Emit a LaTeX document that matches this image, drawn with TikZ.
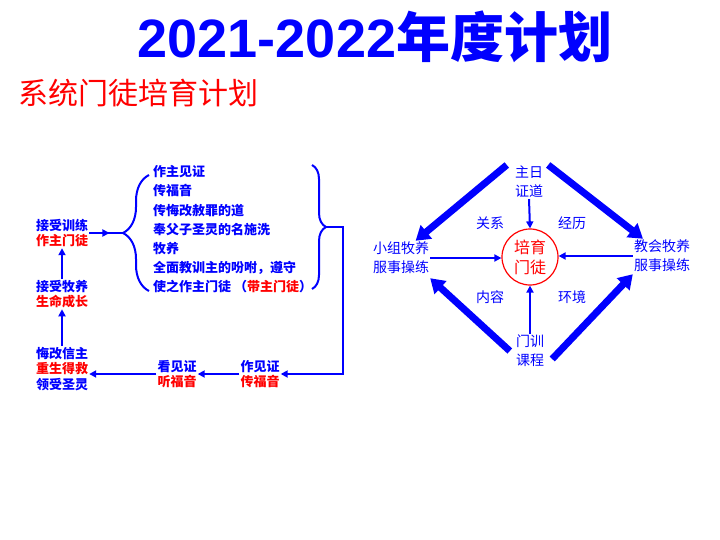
\documentclass[tikz,border=0pt]{standalone}
\usepackage{fontspec}
\setmainfont{Liberation Sans}
\newfontfamily\cjk{Noto Sans CJK SC}
\usetikzlibrary{arrows.meta,decorations.pathreplacing,decorations.markings,calc}

\tikzset{
    lefttext/.style={font=\cjk\bfseries\fontsize{13}{15.5}\selectfont, text=blue, align=center, inner sep=1pt},
    listline/.style={lefttext, anchor=west, text height=10pt, text depth=2pt},
    righttext/.style={font=\cjk\fontsize{14}{19}\selectfont, text=blue, align=center, inner sep=1pt},
    thinarrow/.style={blue, line width=2pt, -{Triangle[length=7pt,width=7pt]}},
    thickarrow/.style={blue, line width=7pt, -{Triangle[length=14pt,width=17pt]}},
    bracket/.style={blue, line width=2pt, decorate},
}

\begin{document}
\begin{tikzpicture}[x=1pt,y=-1pt]
    \useasboundingbox (0,0) rectangle (720,540);

    % Titles
    \node (title) [anchor=base, text=blue, font=\bfseries\fontsize{54}{54}\selectfont] at (375,58) {2021-2022{\cjk 年度计划}};
    \node (subtitle) [anchor=base west, text=red, font=\cjk\fontsize{30}{30}\selectfont, inner sep=0pt] at (18,105) {系统门徒培育计划};

    % Left cycle - steps of discipleship
    \begin{scope}
        \foreach \txt [count=\i from 0] in {作主见证, 传福音, 传悔改赦罪的道, 奉父子圣灵的名施洗, 牧养, 全面教训主的吩咐，遵守, {使之作主门徒 （{\color{red}带主门徒}）}}
            \node (item\i) [listline] at (152,{173+19*\i}) {\txt};

        \node (train) [lefttext] at (62,233) {接受训练\\\textcolor{red}{作主门徒}};
        \node (grow) [lefttext] at (62,294) {接受牧养\\\textcolor{red}{生命成长}};
        \node (repent) [lefttext] at (62,369) {悔改信主\\\textcolor{red}{重生得救}\\领受圣灵};
        \node (hear) [lefttext] at (177,374) {看见证\\\textcolor{red}{听福音}};
        \node (witness) [lefttext] at (260,374) {作见证\\\textcolor{red}{传福音}};

        % Braces round the list
        \draw[bracket, decoration={brace, amplitude=26pt}] (149,291) -- (149,175);
        \coordinate (lbrace) at (123,233);
        \draw[bracket, decoration={brace, amplitude=14pt}] (312,165) -- (312,289);
        \coordinate (rbrace) at (326,227);

        % Connectors
        \draw[blue, line width=2pt, decoration={markings, mark=at position 0.6 with {\arrow{Triangle[length=7pt,width=7pt]}}}, postaction={decorate}] (train.east) -- (lbrace);
        \draw[thinarrow] (rbrace) -- ++(17,0) |- (witness.east);
        \draw[thinarrow] (witness.west) -- (witness.west -| hear.east);
        \draw[thinarrow] (hear.west) -- (hear.west -| repent.east);
        \draw[thinarrow] (repent.north) -- (grow.south);
        \draw[thinarrow] (grow.north) -- (train.south);
    \end{scope}

    % Right diamond - growing disciples
    \begin{scope}
        \node (center) [circle, draw=red, line width=1.2pt, minimum size=56pt, inner sep=0pt, text=red, align=center, font=\cjk\fontsize{16}{20}\selectfont] at (530,257) {培育\\门徒};
        \node (preach) [righttext] at (529,182) {主日\\证道};
        \node (course) [righttext] at (530,351) {门训\\课程};
        \node (group) [righttext] at (401,258) {小组牧养\\服事操练};
        \node (church) [righttext] at (662,256) {教会牧养\\服事操练};

        \node (rel) [righttext] at (490,223) {关系};
        \node (exp) [righttext] at (572,223) {经历};
        \node (cont) [righttext] at (490,297) {内容};
        \node (env) [righttext] at (572,297) {环境};

        % Thin arrows into the centre
        \draw[thinarrow] (preach.south) -- (center.north);
        \draw[thinarrow] (course.north) -- (center.south);
        \draw[thinarrow] (group.east) -- (group.east -| center.west);
        \draw[thinarrow] (church.west) -- (church.west -| center.east);

        % Thick arrows round the diamond
        \draw[thickarrow] ([xshift=-7pt]preach.north west) -- ($(group.north)!0.5!(group.north east)$);
        \draw[thickarrow] ([xshift=4pt]preach.north east) -- ($(church.north west)!0.35!(church.north)$);
        \draw[thickarrow] ([xshift=-5pt]course.west) -- ([yshift=-3pt]group.south east);
        \draw[thickarrow] ([xshift=7pt,yshift=-8pt]course.east) -- ([yshift=-1pt]church.south west);
    \end{scope}

\end{tikzpicture}
\end{document}
